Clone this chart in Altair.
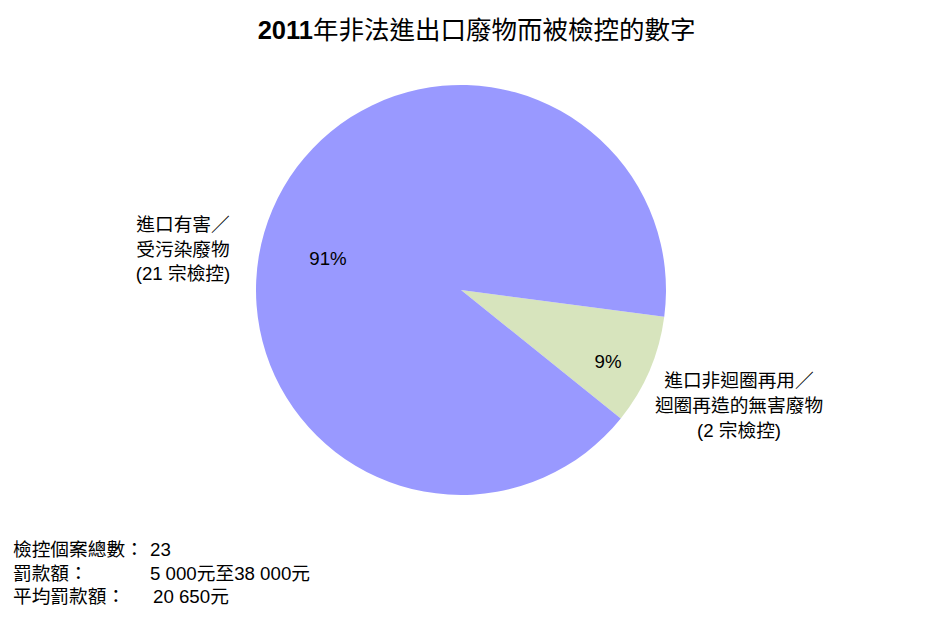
import math
import altair as alt
import pandas as pd

# ---- data ----
categories = ["進口非迴圈再用／迴圈再造的無害廢物", "進口有害／受污染廢物"]
counts = [2, 21]
pct_labels = ["9%", "91%"]
slice_colors = ["#D7E4BD", "#9999FF"]

title_year = "2011"
title_rest = "年非法進出口廢物而被檢控的數字"
left_label = ["進口有害／", "受污染廢物", "(21 宗檢控)"]
right_label = ["進口非迴圈再用／", "迴圈再造的無害廢物", "(2 宗檢控)"]
info_keys = ["檢控個案總數：", "罰款額：", "平均罰款額："]
info_vals = ["23", "5 000元至38 000元", "20 650元"]

FONT = "Liberation Sans, Noto Sans CJK TC"

pie_df = pd.DataFrame({"cat": categories, "n": counts, "idx": list(range(len(categories)))})

start = math.radians(97.5)
cx, cy, R = 453, 282, 205

pie = alt.Chart(pie_df).mark_arc(radius=R, stroke=None).encode(
    theta=alt.Theta("n:Q", stack=True, scale=alt.Scale(range=[start, start + 2 * math.pi])),
    order=alt.Order("idx:Q"),
    color=alt.Color("cat:N", scale=alt.Scale(domain=categories, range=slice_colors), legend=None),
    x=alt.value(cx),
    y=alt.value(cy),
)


def txt(text, x, y, size=18.7, align="center", baseline="middle", weight="normal", line_height=25):
    df = pd.DataFrame({"t": [text]})
    return alt.Chart(df).mark_text(
        x=x, y=y, fontSize=size, align=align, baseline=baseline, font=FONT,
        fontWeight=weight, color="#000000", lineHeight=line_height, lineBreak="\n",
    ).encode(text="t:N")


layers = [pie]
layers.append(txt(title_year, 305, 31, size=25.5, align="right", baseline="alphabetic", weight="bold"))
layers.append(txt(title_rest, 305, 31, size=25.5, align="left", baseline="alphabetic"))
layers.append(txt(pct_labels[1], 320, 251))
layers.append(txt(pct_labels[0], 600, 354))
layers.append(txt("\n".join(left_label), 175, 217, line_height=24.5))
layers.append(txt("\n".join(right_label), 731, 373))
for i, (k, v) in enumerate(zip(info_keys, info_vals)):
    y = 542 + i * 23.5
    layers.append(txt(k, 5, y, align="left"))
    layers.append(txt(v, 142 if i < 2 else 145, y, align="left"))

chart = alt.layer(*layers).properties(
    width=928, height=618, padding=0, autosize=alt.AutoSizeParams(type="none")
).configure_view(stroke=None)

chart.save("out.html", embed_options={"renderer": "svg", "actions": False})
